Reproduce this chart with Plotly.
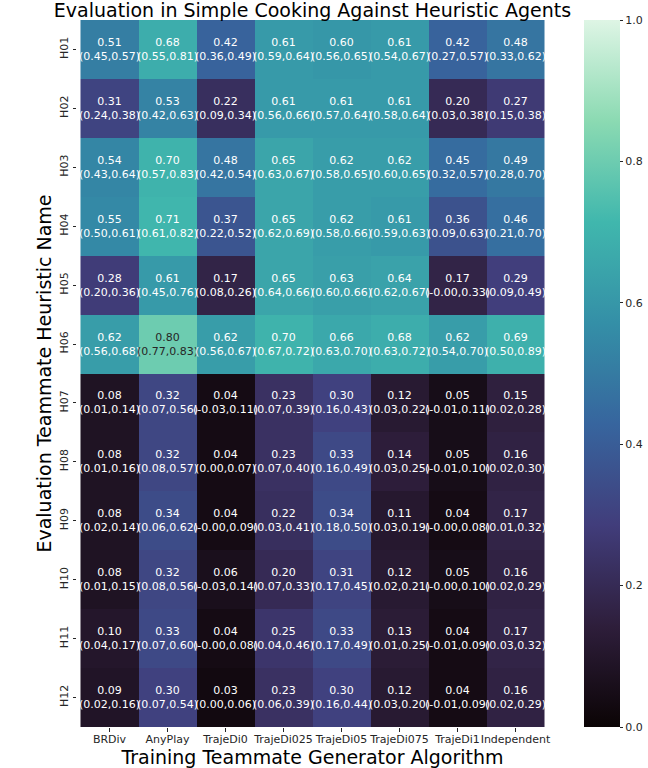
import plotly.graph_objects as go

algorithms = ["BRDiv", "AnyPlay", "TrajeDi0", "TrajeDi025", "TrajeDi05",
              "TrajeDi075", "TrajeDi1", "Independent"]
heuristics = ["H01", "H02", "H03", "H04", "H05", "H06",
              "H07", "H08", "H09", "H10", "H11", "H12"]

means = [
    [0.51, 0.68, 0.42, 0.61, 0.60, 0.61, 0.42, 0.48],
    [0.31, 0.53, 0.22, 0.61, 0.61, 0.61, 0.20, 0.27],
    [0.54, 0.70, 0.48, 0.65, 0.62, 0.62, 0.45, 0.49],
    [0.55, 0.71, 0.37, 0.65, 0.62, 0.61, 0.36, 0.46],
    [0.28, 0.61, 0.17, 0.65, 0.63, 0.64, 0.17, 0.29],
    [0.62, 0.80, 0.62, 0.70, 0.66, 0.68, 0.62, 0.69],
    [0.08, 0.32, 0.04, 0.23, 0.30, 0.12, 0.05, 0.15],
    [0.08, 0.32, 0.04, 0.23, 0.33, 0.14, 0.05, 0.16],
    [0.08, 0.34, 0.04, 0.22, 0.34, 0.11, 0.04, 0.17],
    [0.08, 0.32, 0.06, 0.20, 0.31, 0.12, 0.05, 0.16],
    [0.10, 0.33, 0.04, 0.25, 0.33, 0.13, 0.04, 0.17],
    [0.09, 0.30, 0.03, 0.23, 0.30, 0.12, 0.04, 0.16],
]
ci_low = [
    [0.45, 0.55, 0.36, 0.59, 0.56, 0.54, 0.27, 0.33],
    [0.24, 0.42, 0.09, 0.56, 0.57, 0.58, 0.03, 0.15],
    [0.43, 0.57, 0.42, 0.63, 0.58, 0.60, 0.32, 0.28],
    [0.50, 0.61, 0.22, 0.62, 0.58, 0.59, 0.09, 0.21],
    [0.20, 0.45, 0.08, 0.64, 0.60, 0.62, -0.0, 0.09],
    [0.56, 0.77, 0.56, 0.67, 0.63, 0.63, 0.54, 0.50],
    [0.01, 0.07, -0.03, 0.07, 0.16, 0.03, -0.01, 0.02],
    [0.01, 0.08, 0.00, 0.07, 0.16, 0.03, -0.01, 0.02],
    [0.02, 0.06, -0.0, 0.03, 0.18, 0.03, -0.0, 0.01],
    [0.01, 0.08, -0.03, 0.07, 0.17, 0.02, -0.0, 0.02],
    [0.04, 0.07, -0.0, 0.04, 0.17, 0.01, -0.01, 0.03],
    [0.02, 0.07, 0.00, 0.06, 0.16, 0.03, -0.01, 0.02],
]
ci_high = [
    [0.57, 0.81, 0.49, 0.64, 0.65, 0.67, 0.57, 0.62],
    [0.38, 0.63, 0.34, 0.66, 0.64, 0.64, 0.38, 0.38],
    [0.64, 0.83, 0.54, 0.67, 0.65, 0.65, 0.57, 0.70],
    [0.61, 0.82, 0.52, 0.69, 0.66, 0.63, 0.63, 0.70],
    [0.36, 0.76, 0.26, 0.66, 0.66, 0.67, 0.33, 0.49],
    [0.68, 0.83, 0.67, 0.72, 0.70, 0.72, 0.70, 0.89],
    [0.14, 0.56, 0.11, 0.39, 0.43, 0.22, 0.11, 0.28],
    [0.16, 0.57, 0.07, 0.40, 0.49, 0.25, 0.10, 0.30],
    [0.14, 0.62, 0.09, 0.41, 0.50, 0.19, 0.08, 0.32],
    [0.15, 0.56, 0.14, 0.33, 0.45, 0.21, 0.10, 0.29],
    [0.17, 0.60, 0.08, 0.46, 0.49, 0.25, 0.09, 0.32],
    [0.16, 0.54, 0.06, 0.39, 0.44, 0.20, 0.09, 0.29],
]
colorbar_ticks = [0.0, 0.2, 0.4, 0.6, 0.8, 1.0]

# seaborn "mako" colormap (approximation)
mako = [
    [0.0, "#0b0405"],
    [1 / 7, "#2e1e3b"],
    [2 / 7, "#413d7b"],
    [3 / 7, "#37659e"],
    [0.5, "#357ba2"],
    [4 / 7, "#348fa7"],
    [5 / 7, "#40b7ad"],
    [6 / 7, "#8bdab2"],
    [1.0, "#def5e5"],
]


def hex_to_rgb(h):
    h = h.lstrip("#")
    return [int(h[i:i + 2], 16) / 255 for i in (0, 2, 4)]


def color_at(v):
    for (p0, c0), (p1, c1) in zip(mako[:-1], mako[1:]):
        if p0 <= v <= p1:
            t = (v - p0) / (p1 - p0)
            a, b = hex_to_rgb(c0), hex_to_rgb(c1)
            return [a[i] + t * (b[i] - a[i]) for i in range(3)]
    return hex_to_rgb(mako[-1][1])


def luminance(rgb):
    lin = [c / 12.92 if c <= 0.03928 else ((c + 0.055) / 1.055) ** 2.4 for c in rgb]
    return 0.2126 * lin[0] + 0.7152 * lin[1] + 0.0722 * lin[2]


FONT = "DejaVu Sans"

fig = go.Figure()
fig.add_trace(go.Heatmap(
    z=means, x=algorithms, y=heuristics,
    zmin=0, zmax=1, colorscale=mako,
    xgap=0, ygap=0,
    colorbar=dict(
        x=1.0764, xanchor="left", xref="paper",
        y=0.5, yanchor="middle", len=1, lenmode="fraction",
        thickness=36, xpad=0, ypad=0, outlinewidth=0,
        tickvals=colorbar_ticks, ticktext=[f"{t:.1f}" for t in colorbar_ticks],
        ticks="outside", ticklen=3.5, tickwidth=0.8, tickcolor="#262626",
        tickfont=dict(family=FONT, size=11, color="#262626"),
    ),
    hoverinfo="skip",
))

annotations = []
for i, h in enumerate(heuristics):
    for j, a in enumerate(algorithms):
        m = means[i][j]
        col = "#262626" if luminance(color_at(m)) > 0.408 else "#ffffff"
        annotations.append(dict(
            x=a, y=h, xref="x", yref="y", showarrow=False,
            text=f"{m:.2f}<br>({ci_low[i][j]:.2f},{ci_high[i][j]:.2f})",
            font=dict(family=FONT, size=11, color=col),
        ))

fig.update_layout(
    width=648, height=768,
    margin=dict(l=77, r=100, t=20, b=41, autoexpand=False),
    paper_bgcolor="white", plot_bgcolor="white",
    font=dict(family=FONT, color="#000000"),
    title=dict(
        text="Evaluation in Simple Cooking Against Heuristic Agents",
        x=0.5, xref="paper", xanchor="center",
        y=1 - 10 / 768, yref="container", yanchor="middle",
        font=dict(family=FONT, size=19, color="#000000"),
    ),
    xaxis=dict(
        title=dict(text="Training Teammate Generator Algorithm",
                   font=dict(family=FONT, size=19, color="#000000"),
                   standoff=4),
        automargin=False,
        tickangle=0, ticklabelstandoff=-2,
        ticks="outside", ticklen=3.5, tickwidth=0.8, tickcolor="#262626",
        tickfont=dict(family=FONT, size=11, color="#262626"),
        showgrid=False, zeroline=False, showline=False,
    ),
    yaxis=dict(
        title=dict(text="Evaluation Teammate Heuristic Name",
                   font=dict(family=FONT, size=19, color="#000000"),
                   standoff=1),
        automargin=False,
        autorange="reversed",
        ticks="outside", ticklen=3.5, tickwidth=0.8, tickcolor="#262626",
        tickangle=-90,
        tickfont=dict(family=FONT, size=11, color="#262626"),
        showgrid=False, zeroline=False, showline=False,
    ),
    annotations=annotations,
)

# remove the browser's default 8px body margin so the figure sits at (0, 0)
fig.write_html("out.html",
               config={"displayModeBar": False},
               post_script="document.body.style.margin='0';"
                           "document.body.style.overflow='hidden';")
